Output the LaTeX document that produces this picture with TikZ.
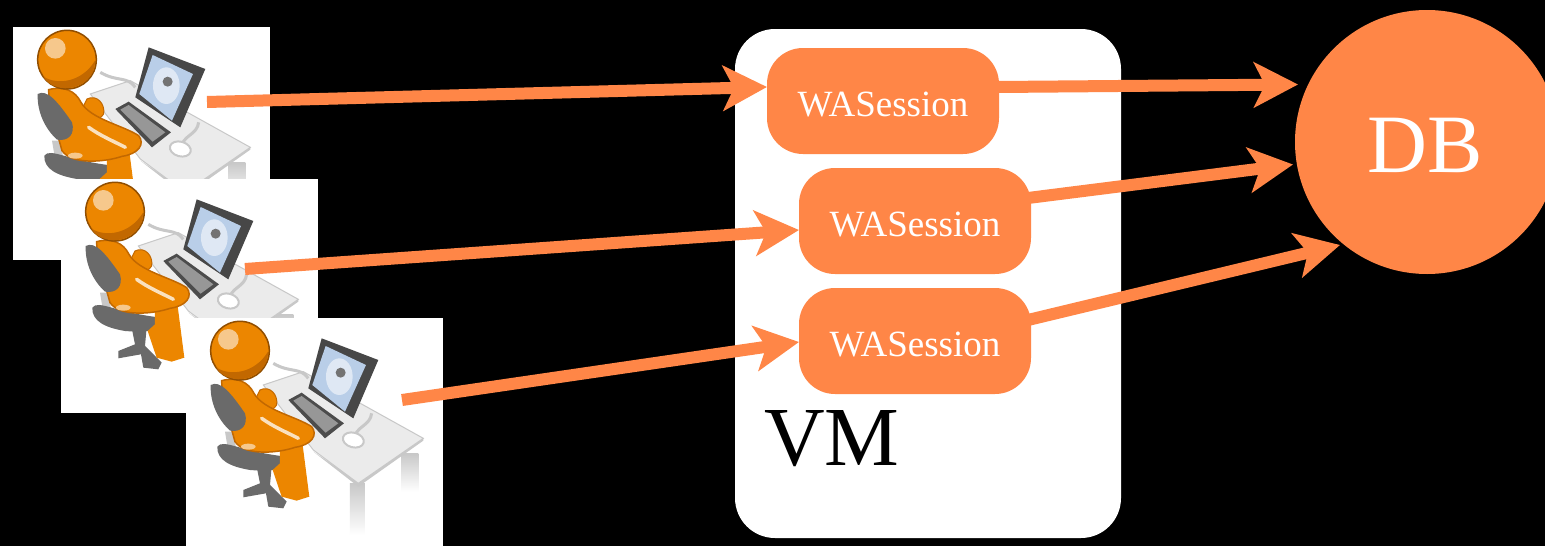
\documentclass[tikz,border=0pt]{standalone}
\usepackage{fontspec}
\setmainfont{Liberation Serif}
\usetikzlibrary{arrows.meta}
\definecolor{acc}{HTML}{FF8647}
\definecolor{skin}{HTML}{EC8600}
\definecolor{skinD}{HTML}{C26800}
\definecolor{chair}{HTML}{6A6A6A}
\definecolor{desk}{HTML}{EBEBEB}
\definecolor{deskD}{HTML}{C8C8C8}
\definecolor{scr}{HTML}{B9CEE8}
\tikzset{
  sess/.style={fill=acc,text=white,rounded corners=36pt,minimum width=232pt,minimum height=106pt,inner sep=0pt,font=\fontsize{37}{37}\selectfont},
  link/.style={draw=acc,line width=12pt,-{Stealth[length=44pt,width=45pt,inset=11pt]}},
  photo/.style={fill=white,draw=none},
  personart/.pic={
    \begin{scope}[x=.3333pt,y=-.3333pt]
    % table legs
    \shade[top color=deskD,bottom color=white,draw=none] (665,430) rectangle (715,545);
    \shade[top color=deskD,bottom color=white,draw=none] (510,520) rectangle (555,675);
    % table
    \fill[deskD] (400,425) -- (535,530) -- (730,392) -- (730,385) -- (535,515) -- cycle;
    \fill[desk,draw=deskD,line width=1pt] (250,225) -- (370,185) -- (730,385) -- (535,520) -- (400,420) -- cycle;
    % cable and mouse
    \draw[deskD,line width=3pt] (280,160) .. controls (330,190) and (360,170) .. (385,205);
    \draw[deskD,line width=3pt] (575,310) .. controls (570,345) and (540,345) .. (525,375);
    \fill[white,draw=deskD,line width=2pt,rotate around={-15:(520,390)}] (520,390) ellipse (32 and 22);
    % laptop
    \fill[black!72] (425,85) -- (595,150) -- (520,325) -- (385,235) -- cycle;
    \fill[scr] (437,108) -- (558,165) -- (495,305) -- (397,225) -- cycle;
    \fill[white,opacity=.55] (478,200) ellipse (40 and 55);
    \fill[black!55] (482,188) circle (15);
    \fill[black!70] (325,270) -- (365,248) -- (492,340) -- (435,385) -- cycle;
    \fill[chair!70] (340,272) -- (365,258) -- (475,340) -- (437,368) -- cycle;
    % chair stem, base and seat
    \fill[deskD] (135,365) -- (160,365) -- (170,425) -- (145,425) -- cycle;
    \fill[chair] (230,470) -- (275,470) -- (270,525) -- (320,575) -- (310,595) -- (265,590) -- (258,550) -- (190,562) -- (190,540) -- (240,520) -- cycle;
    \fill[chair] (112,410) .. controls (130,385) and (180,425) .. (320,440) .. controls (330,480) and (270,485) .. (210,480) .. controls (150,470) and (110,450) .. (112,410) -- cycle;
    % legs
    \fill[skin] (300,405) -- (368,405) -- (388,560) -- (350,572) -- (305,560) -- (278,480) -- (300,460) -- cycle;
    % far arm
    \fill[skin,draw=skinD,line width=1pt] (240,240) .. controls (270,225) and (295,255) .. (290,285) .. controls (275,310) and (245,300) .. (225,270) -- cycle;
    % torso and near arm
    \fill[skin,draw=skinD,line width=1.5pt] (125,212) .. controls (170,200) and (205,215) .. (222,250) .. controls (250,300) and (350,320) .. (395,350) .. controls (415,375) and (395,405) .. (345,412) .. controls (300,428) and (195,440) .. (165,395) .. controls (150,340) and (125,260) .. (125,212) -- cycle;
    \draw[white!75!skin,line width=3.5pt,line cap=round] (245,325) .. controls (280,350) and (310,362) .. (355,385);
    \fill[white!55!skin] (205,410) ellipse (22 and 9);
    % chair back
    \fill[chair] (92,225) .. controls (120,210) and (150,245) .. (195,310) .. controls (205,345) and (185,368) .. (150,362) .. controls (115,330) and (90,280) .. (92,225) -- cycle;
    % head
    \fill[skin,draw=skinD!75!black,line width=1.5pt] (180,122) circle (88);
    \fill[skinD] (108,172) .. controls (150,200) and (225,190) .. (264,125) .. controls (265,180) and (215,208) .. (175,208) .. controls (140,205) and (120,192) .. (108,172) -- cycle;
    \fill[white!55!skin] (145,88) circle (31);
    \end{scope}
  }
}
\begin{document}
\begin{tikzpicture}[x=1pt,y=-1pt]
\useasboundingbox (0,0) rectangle (1545,546);
\clip (0,0) rectangle (1545,546);
\fill[black] (0,0) rectangle (1545,546);
% user pictures
\fill[photo] (13,27) rectangle (270,260);
\pic at (7,19) {personart};
\fill[photo] (61,179) rectangle (318,413);
\pic at (55,171) {personart};
\fill[photo] (186,318) rectangle (443,546);
\pic at (180,310) {personart};
% VM
\node[fill=white,rounded corners=40pt,minimum width=386pt,minimum height=509pt,inner sep=0pt] (vm) at (928,283.5) {};
\node[font=\fontsize{84}{84}\selectfont,inner sep=0pt,anchor=base west,text=black] (vmlabel) at (764,465) {VM};
% sessions
\node[sess] (s1) at (883,101) {\raisebox{-15pt}[0pt][0pt]{WASession}};
\node[sess] (s2) at (915,221) {\raisebox{-15pt}[0pt][0pt]{WASession}};
\node[sess] (s3) at (915,341) {\raisebox{-15pt}[0pt][0pt]{WASession}};
% DB
\node[circle,fill=acc,text=white,minimum size=264pt,inner sep=0pt,font=\fontsize{83}{83}\selectfont] (db) at (1427,142) {\kern-4pt\raisebox{-30pt}[0pt][0pt]{DB}};
% free ends
\coordinate (u1) at (207,102);
\coordinate (u2) at (245,269);
\coordinate (u3) at (402,400);
\coordinate (a1) at (767,87);
\coordinate (a2) at (799,230);
\coordinate (a3) at (799,342);
\coordinate (b1) at (1298,84.5);
\coordinate (b2) at (1293,164.5);
\coordinate (b3) at (1340,245);
\coordinate (c1) at (998,87);
\coordinate (c2) at (1028,198);
\coordinate (c3) at (1028,320);
% connectors
\draw[link] (u1) -- (a1);
\draw[link] (u2) -- (a2);
\draw[link] (u3) -- (a3);
\draw[link] (c1) -- (b1);
\draw[link] (c2) -- (b2);
\draw[link] (c3) -- (b3);
\end{tikzpicture}
\end{document}
